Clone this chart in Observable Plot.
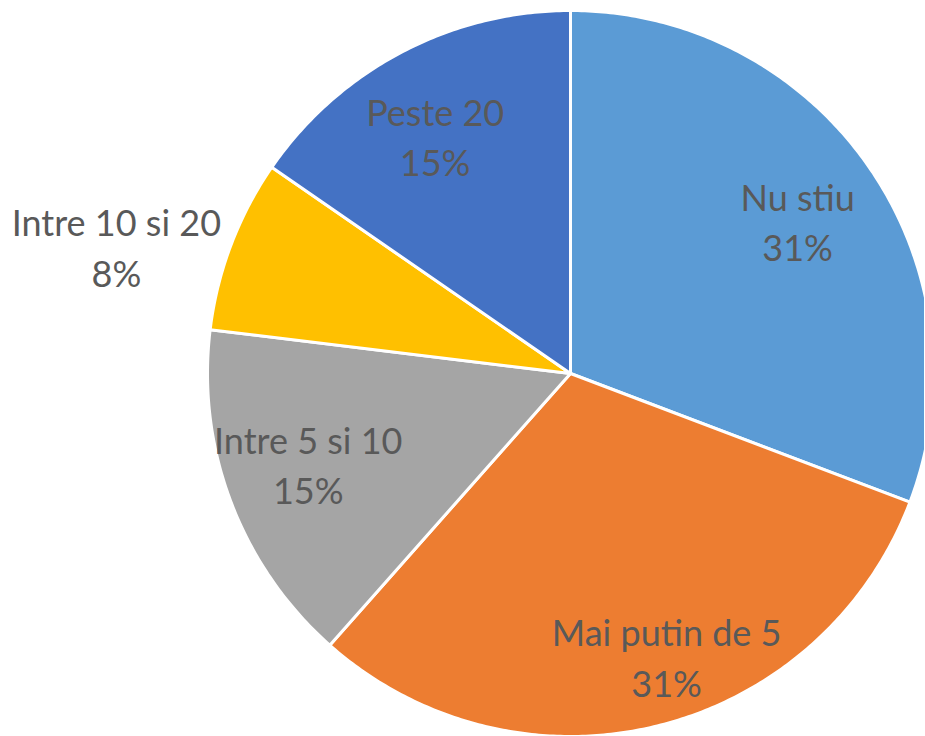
<!DOCTYPE html>
<html>
<head>
<meta charset="utf-8">
<script src="https://cdn.jsdelivr.net/npm/d3@7"></script>
<script src="https://cdn.jsdelivr.net/npm/@observablehq/plot@0.6"></script>
<style>
  html, body { margin: 0; padding: 0; background: #ffffff; }
  #chart { width: 925px; height: 736px; overflow: hidden; }
</style>
</head>
<body>
<div id="chart"></div>
<script>
// ---- Data ----
const categories = ["Nu stiu", "Mai putin de 5", "Intre 5 si 10", "Intre 10 si 20", "Peste 20"];
const counts = [4, 4, 2, 1, 2];

// ---- Styles / layout ----
const colors = ["#5B9BD5", "#ED7D31", "#A5A5A5", "#FFC000", "#4472C4"];
const W = 925, H = 736;
const cx = 570, cy = 373, R = 363;
// label placement: radial factor and angular nudge (degrees) per slice
const labelRadius = [0.755, 0.82, 0.763, 1.30, 0.755];
const labelNudge = [0.6, -5, 2, -5, -1.9];

const total = d3.sum(counts);
const arcs = d3.pie().sort(null).value(d => d)(counts);

const pt = (a, r) => [cx + r * Math.sin(a), cy - r * Math.cos(a)];

const slices = arcs.map((a, i) => {
  const n = Math.max(8, Math.ceil((a.endAngle - a.startAngle) / 0.01));
  const ring = [[cx, cy]];
  for (let k = 0; k <= n; k++) {
    const t = a.startAngle + (a.endAngle - a.startAngle) * k / n;
    ring.push(pt(t, R));
  }
  ring.push([cx, cy]);
  return {
    type: "Feature",
    properties: {name: categories[i]},
    geometry: {type: "Polygon", coordinates: [ring]}
  };
});

const labels = arcs.map((a, i) => {
  const mid = (a.startAngle + a.endAngle) / 2 + labelNudge[i] * Math.PI / 180;
  const [x, y] = pt(mid, R * labelRadius[i]);
  return {x, y, text: `${categories[i]}\n${Math.round(counts[i] / total * 100)}%`};
});

const chart = Plot.plot({
  width: W,
  height: H,
  margin: 0,
  projection: {type: "identity"},
  color: {domain: categories, range: colors},
  style: {background: "#ffffff", overflow: "hidden"},
  marks: [
    Plot.geo(slices, {fill: d => d.properties.name, stroke: "#ffffff", strokeWidth: 3, strokeLinejoin: "round"}),
    Plot.text(labels, {
      x: "x", y: "y", text: "text",
      fontSize: 36, lineHeight: 1.4, lineAnchor: "middle",
      fill: "#595959", fontFamily: "Lato"
    })
  ]
});
document.getElementById("chart").appendChild(chart);
</script>
</body>
</html>
